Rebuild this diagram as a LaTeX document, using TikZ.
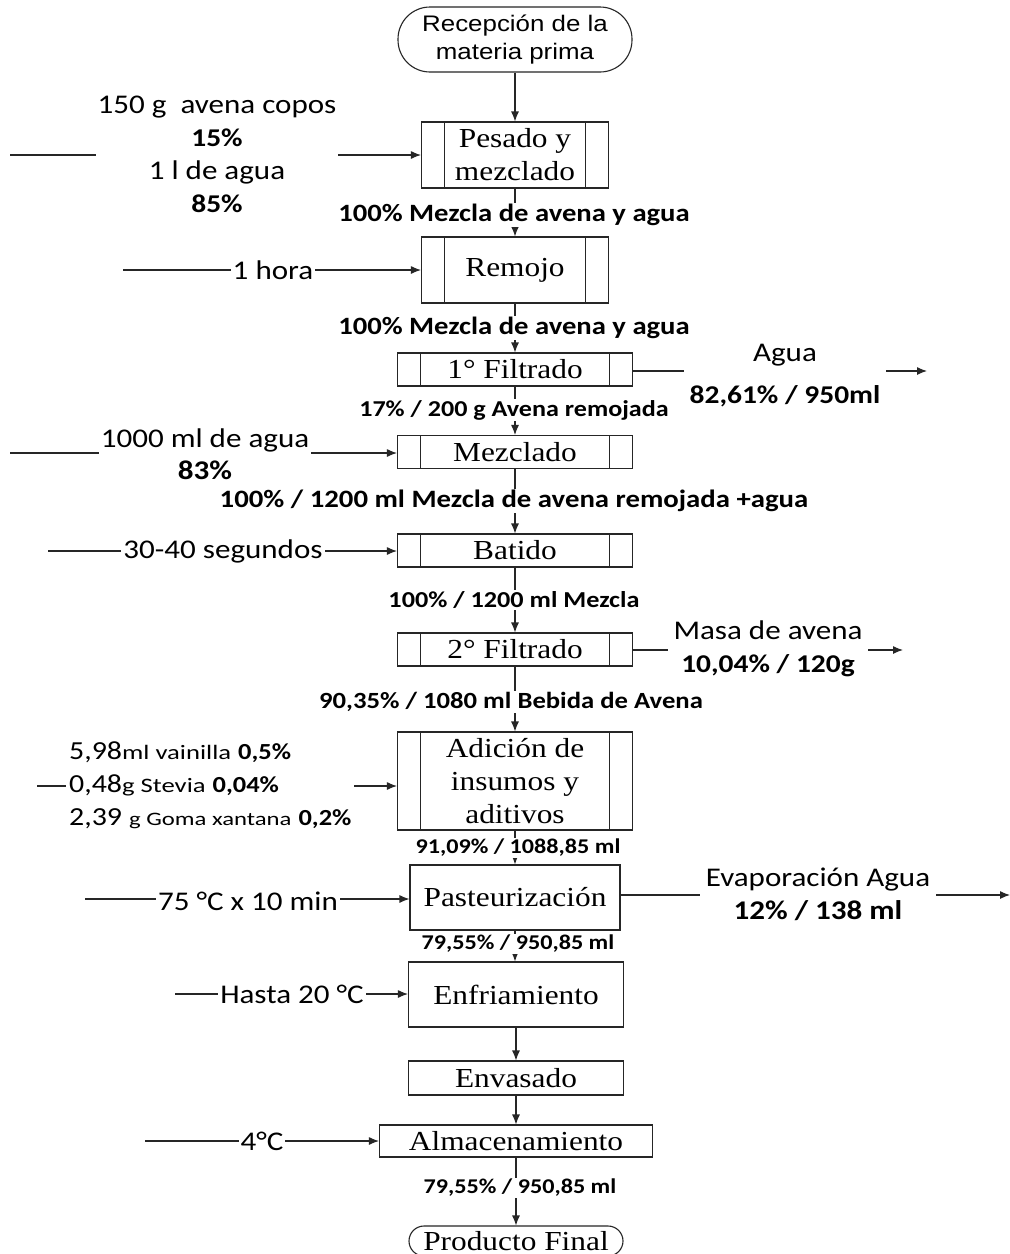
\documentclass[tikz,border=0pt]{standalone}
\usepackage{fontspec}
\usetikzlibrary{arrows.meta}
\newfontfamily\calf[FakeStretch=1.15]{Carlito}
\newfontfamily\calw[FakeStretch=1.3]{Carlito}
\newfontfamily\timf[FakeStretch=1.14]{Liberation Serif}
\newfontfamily\arif[FakeStretch=1.15]{Liberation Sans}
\newcommand\fsz[2]{\fontsize{#1}{#2}\selectfont}
\tikzset{
  ln/.style={line width=1.1pt, draw=black!85},
  arr/.style={ln, -{Latex[length=10pt,width=8pt]}},
  proc/.style={draw=black!85, line width=1.1pt, inner sep=0pt, align=center, font=\timf\fsz{27.5}{33}},
  bars/.style={path picture={
    \draw[line width=1.1pt, black!85] ([xshift=23pt]path picture bounding box.south west) -- ([xshift=23pt]path picture bounding box.north west);
    \draw[line width=1.1pt, black!85] ([xshift=-23pt]path picture bounding box.south east) -- ([xshift=-23pt]path picture bounding box.north east);}},
  flow/.style={fill=white, inner sep=1.5pt, font=\calf\bfseries\fsz{#1}{#1}},
  lab/.style={fill=white, inner sep=2pt, align=center, font=\calf\fsz{27}{33}},
}
\begin{document}
\begin{tikzpicture}[x=1pt, y=-1pt]
\fill[white] (0,0) rectangle (1010,1254);
\useasboundingbox (0,0) rectangle (1010,1254);

% process nodes
\node[proc, rounded corners=32pt, minimum width=234pt, minimum height=65pt, font=\arif\fsz{22.5}{28}] (start) at (515,39.5) {Recepción de la\\materia prima};
\node[proc, bars, minimum width=187pt, minimum height=66pt] (pes) at (515,155) {Pesado y\\mezclado};
\node[proc, bars, minimum width=187pt, minimum height=66pt] (rem) at (515,270) {Remojo};
\node[proc, bars, minimum width=235pt, minimum height=33pt] (f1) at (515,369.5) {1° Filtrado};
\node[proc, bars, minimum width=235pt, minimum height=33pt] (mez) at (515,452) {Mezclado};
\node[proc, bars, minimum width=235pt, minimum height=33pt] (bat) at (515,550.5) {Batido};
\node[proc, bars, minimum width=235pt, minimum height=33pt] (f2) at (515,649.5) {2° Filtrado};
\node[proc, bars, minimum width=235pt, minimum height=98pt] (adi) at (515,781) {Adición de\\insumos y\\aditivos};
\node[proc, minimum width=210pt, minimum height=65pt] (pas) at (515,897.5) {Pasteurización};
\node[proc, minimum width=215pt, minimum height=65pt] (enf) at (516,994.5) {Enfriamiento};
\node[proc, minimum width=215pt, minimum height=34pt] (env) at (516,1078) {Envasado};
\node[proc, minimum width=273pt, minimum height=32pt] (alm) at (516,1141) {Almacenamiento};
\node[proc, rounded corners=15pt, minimum width=214pt, minimum height=30pt] (fin) at (516,1241) {Producto Final};

% vertical flow
\draw[arr] (start) -- (pes);
\draw[arr] (pes) -- (rem);
\draw[arr] (rem) -- (f1);
\draw[arr] (f1) -- (mez);
\draw[arr] (mez) -- (bat);
\draw[arr] (bat) -- (f2);
\draw[arr] (f2) -- (adi);
\draw[arr] (adi) -- (pas);
\draw[arr] (pas.south) -- (enf.north -| pas.south);
\draw[arr] (enf) -- (env);
\draw[arr] (env) -- (alm);
\draw[arr] (alm) -- (fin);

% inputs
\coordinate (i1) at (10,155);
\coordinate (i2) at (123,270);
\coordinate (i3) at (10,453);
\coordinate (i4) at (48,551);
\coordinate (i5) at (37,786);
\coordinate (i6) at (85,899);
\coordinate (i7) at (175,994);
\coordinate (i8) at (145,1141);
\draw[arr] (i1) -- (pes.west |- i1);
\draw[arr] (i2) -- (rem.west |- i2);
\draw[arr] (i3) -- (mez.west |- i3);
\draw[arr] (i4) -- (bat.west |- i4);
\draw[arr] (i5) -- (adi.west |- i5);
\draw[arr] (i6) -- (pas.west |- i6);
\draw[arr] (i7) -- (enf.west |- i7);
\draw[arr] (i8) -- (alm.west |- i8);

% outputs
\coordinate (o1) at (927,371);
\coordinate (o2) at (903,650);
\coordinate (o3) at (1010,895);
\draw[arr] (f1.east |- o1) -- (o1);
\draw[arr] (f2.east |- o2) -- (o2);
\draw[arr] (pas.east |- o3) -- (o3);

% input labels
\node[lab] (t1) at (217,154.5) {150 g\ \ avena copos\\{\bfseries\fsz{25.6}{33}15\%}\\1 l de agua\\{\bfseries\fsz{25.6}{33}85\%}};
\node[lab] (t2) at (273,270) {1 hora};
\node[lab, font=\calf\fsz{27}{32}] (t3) at (205,454) {1000 ml de agua\\{\bfseries\fsz{27}{32}83\%}};
\node[lab] (t4) at (223,551) {30-40 segundos};
\node[lab, anchor=west, align=left, inner sep=3pt] (t5) at (66,785)
  {{\fsz{26}{28.5}5,98}{\calw\fsz{20.5}{28.5}ml vainilla} {\bfseries\fsz{23}{28.5}0,5\%}\\
   {\fsz{26}{28.5}0,48}{\calw\fsz{20.5}{28.5}g Stevia} {\bfseries\fsz{23}{28.5}0,04\%}\\
   {\fsz{26}{28.5}2,39} {\calw\fsz{19}{28.5}g Goma xantana} {\bfseries\fsz{23}{28.5}0,2\%}};
\node[lab] (t6) at (248,901) {75 °C x 10 min};
\node[lab] (t7) at (292,994) {Hasta 20 °C};
\node[lab] (t8) at (262,1141) {4°C};

% output labels
\node[lab, font=\calf\fsz{27}{42}, inner sep=6pt] (u1) at (785,376) {Agua\\{\bfseries\fsz{25.6}{42}82,61\% / 950ml}};
\node[lab, inner sep=6pt] (u2) at (768,648.5) {Masa de avena\\{\bfseries\fsz{25.6}{33}10,04\% / 120g}};
\node[lab, inner sep=6pt] (u3) at (818,894) {Evaporación Agua\\{\bfseries\fsz{27}{33}12\% / 138 ml}};

% flow labels
\node[flow=24.9] (l1) at (514,215) {100\% Mezcla de avena y agua};
\node[flow=24.9] (l2) at (514,328) {100\% Mezcla de avena y agua};
\node[flow=22.7] (l3) at (514,410) {17\% / 200 g Avena remojada};
\node[flow=25] (l4) at (514,501) {100\% / 1200 ml Mezcla de avena remojada +agua};
\node[flow=22.8] (l5) at (514,600) {100\% / 1200 ml Mezcla};
\node[flow=23.2] (l6) at (511,702) {90,35\% / 1080 ml Bebida de Avena};
\node[flow=21] (l7) at (518,848) {91,09\% / 1088,85 ml};
\node[flow=21] (l8) at (518,944) {79,55\% / 950,85 ml};
\node[flow=21] (l9) at (520,1188) {79,55\% / 950,85 ml};
\end{tikzpicture}
\end{document}
